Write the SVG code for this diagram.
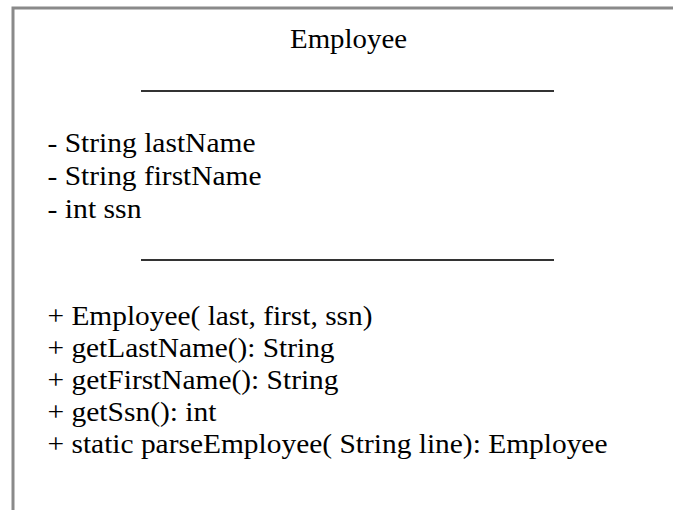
<svg xmlns="http://www.w3.org/2000/svg" width="673" height="510" viewBox="0 0 673 510">
<style>
text{font-family:"Liberation Serif","Times New Roman",serif;font-size:26.5px;fill:#000;}
.sep{stroke:#333;stroke-width:2;}
.frame{fill:none;stroke:#8a8a8a;stroke-width:3;}
</style>
<rect width="673" height="510" fill="#fff"/>
<g id="employee-class">
<path class="frame" d="M13,512 V8 H675"/>
<text x="348.5" y="48" text-anchor="middle" textLength="117" lengthAdjust="spacingAndGlyphs">Employee</text>
<line class="sep" x1="141" y1="91" x2="554" y2="91"/>
<text x="47.5" y="152" textLength="208" lengthAdjust="spacingAndGlyphs">- String lastName</text>
<text x="47.5" y="185" textLength="214" lengthAdjust="spacingAndGlyphs">- String firstName</text>
<text x="47.5" y="218" textLength="94" lengthAdjust="spacingAndGlyphs">- int ssn</text>
<line class="sep" x1="141" y1="260" x2="554" y2="260"/>
<text x="47.5" y="325" textLength="325" lengthAdjust="spacingAndGlyphs">+ Employee( last, first, ssn)</text>
<text x="47.5" y="357" textLength="287" lengthAdjust="spacingAndGlyphs">+ getLastName(): String</text>
<text x="47.5" y="389" textLength="291" lengthAdjust="spacingAndGlyphs">+ getFirstName(): String</text>
<text x="47.5" y="421" textLength="169" lengthAdjust="spacingAndGlyphs">+ getSsn(): int</text>
<text x="47.5" y="453" textLength="560" lengthAdjust="spacingAndGlyphs">+ static parseEmployee( String line): Employee</text>
</g>
</svg>
